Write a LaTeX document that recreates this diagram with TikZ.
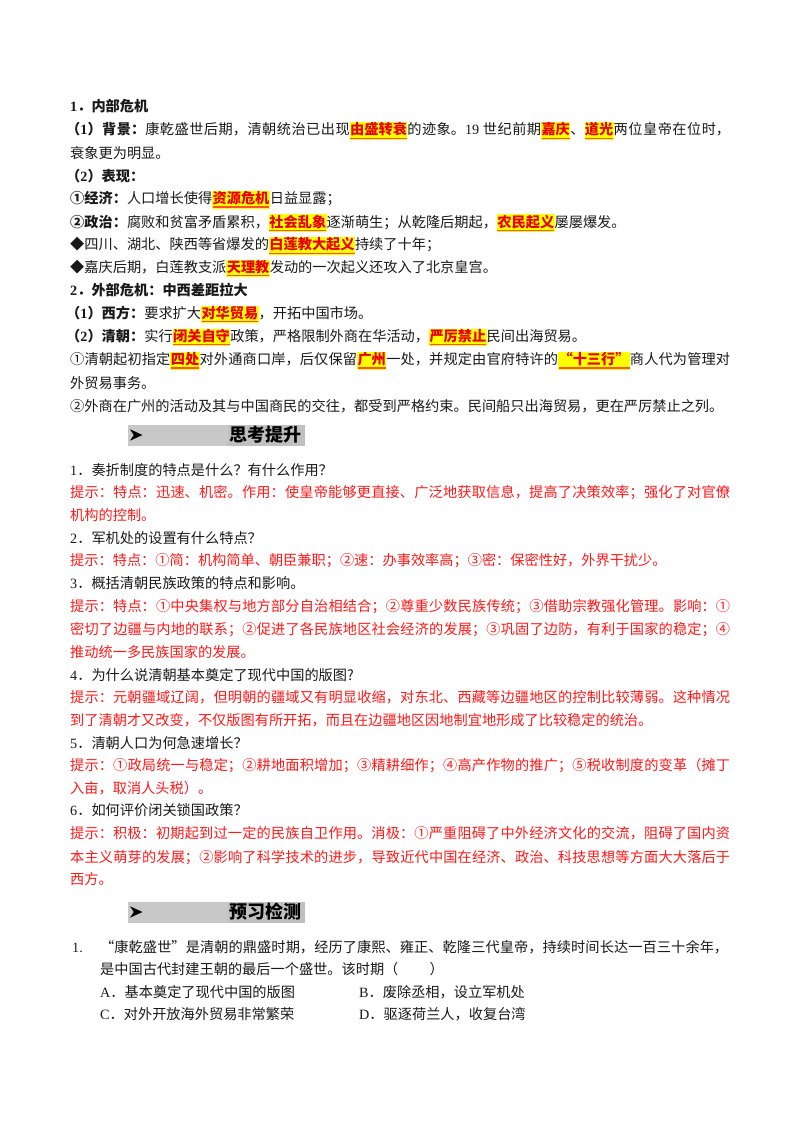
\documentclass[tikz,border=0pt]{standalone}
\usepackage{fontspec}
\setmainfont{Noto Sans CJK SC}
\newfontfamily\tm{Liberation Serif}
\XeTeXlinebreaklocale "zh"
\XeTeXlinebreakskip=0pt plus 2pt
\definecolor{hintred}{RGB}{255,25,25}
\definecolor{hlyellow}{RGB}{255,255,0}
\definecolor{hlred}{RGB}{235,0,0}
\definecolor{ulred}{RGB}{255,80,40}
\definecolor{hdrA}{RGB}{200,200,200}
\definecolor{hdrB}{RGB}{192,192,192}
\definecolor{bodyblack}{RGB}{25,25,25}
\newcommand\fs{\fontsize{14.2pt}{17pt}\selectfont}
\newlength\hlw
\newcommand\hlt[1]{{\settowidth{\hlw}{\bfseries #1}%
  \setlength{\fboxsep}{0.4pt}%
  \colorbox{hlyellow}{\rule[-4.6pt]{0pt}{16.6pt}\rlap{\textcolor{ulred}{\rule[-4pt]{\hlw}{1.3pt}}}\textcolor{hlred}{\bfseries #1}}}}
\newcommand\jus[2][660pt]{\parbox[t]{#1}{\parfillskip=0pt\relax #2}}
\tikzset{
  txt/.style={anchor=base west, inner sep=0pt, font=\fs, text=bodyblack},
  hint/.style={txt, text=hintred},
  hdrtext/.style={anchor=west, inner sep=0pt, font=\bfseries\fontsize{18pt}{20pt}\selectfont, text=black}
}
\begin{document}
\begin{tikzpicture}[x=1pt,y=-1pt]
\useasboundingbox (0,0) rectangle (800,1132);
\fill[white] (0,0) rectangle (800,1132);

% ---- Part 1
\node[txt] (l1) at (70,111.8) {\bfseries {\tm 1}．内部危机};
\node[txt] (l2) at (66,134.8) {\jus[664pt]{\bfseries（{\tm 1}）背景：\mdseries 康乾盛世后期，清朝统治已出现\hlt{由盛转衰}的迹象。{\tm 19} 世纪前期\hlt{嘉庆}、\hlt{道光}两位皇帝在位时，}};
\node[txt] (l3) at (70,158.0) {衰象更为明显。};
\node[txt] (l4) at (66,181.3) {\bfseries（{\tm 2}）表现：};
\node[txt] (l5) at (70,203.6) {\textbf{①经济：}人口增长使得\hlt{资源危机}日益显露；};
\node[txt] (l6) at (70,227.0) {\textbf{②政治：}腐败和贫富矛盾累积，\hlt{社会乱象}逐渐萌生；从乾隆后期起，\hlt{农民起义}屡屡爆发。};
\node[txt] (l7) at (70,249.8) {◆四川、湖北、陕西等省爆发的\hlt{白莲教大起义}持续了十年；};
\node[txt] (l8) at (70,272.3) {◆嘉庆后期，白莲教支派\hlt{天理教}发动的一次起义还攻入了北京皇宫。};
\node[txt] (l9) at (70,295.3) {\bfseries {\tm 2}．外部危机：中西差距拉大};
\node[txt] (l10) at (66,318.3) {\textbf{（{\tm 1}）西方：}要求扩大\hlt{对华贸易}，开拓中国市场。};
\node[txt] (l11) at (66,341.3) {\textbf{（{\tm 2}）清朝：}实行\hlt{闭关自守}政策，严格限制外商在华活动，\hlt{严厉禁止}民间出海贸易。};
\node[txt] (l12) at (70,364.6) {\jus{①清朝起初指定\hlt{四处}对外通商口岸，后仅保留\hlt{广州}一处，并规定由官府特许的\hlt{“十三行”}商人代为管理对}};
\node[txt] (l13) at (70,388.0) {外贸易事务。};
\node[txt] (l14) at (70,411.3) {②外商在广州的活动及其与中国商民的交往，都受到严格约束。民间船只出海贸易，更在严厉禁止之列。};

% ---- Header 1
\fill[hdrA] (128,424.5) rectangle (228,445.5);
\fill[hdrB] (228,424.5) rectangle (305,445.5);
\fill[black] (130,429.3) -- (142.5,435) -- (130,440.7) -- (133.8,435) -- cycle;
\node[hdrtext] (h1) at (229,435) {思考提升};

% ---- Questions
\node[txt] (q1) at (70,475.3) {{\tm 1}．奏折制度的特点是什么？有什么作用？};
\node[hint] (a1a) at (70,497.0) {\jus{提示：特点：迅速、机密。作用：使皇帝能够更直接、广泛地获取信息，提高了决策效率；强化了对官僚}};
\node[hint] (a1b) at (70,520.3) {机构的控制。};
\node[txt] (q2) at (70,543.6) {{\tm 2}．军机处的设置有什么特点？};
\node[hint] (a2) at (70,565.8) {提示：特点：①简：机构简单、朝臣兼职；②速：办事效率高；③密：保密性好，外界干扰少。};
\node[txt] (q3) at (70,588.6) {{\tm 3}．概括清朝民族政策的特点和影响。};
\node[hint] (a3a) at (70,611.3) {\jus{提示：特点：①中央集权与地方部分自治相结合；②尊重少数民族传统；③借助宗教强化管理。影响：①}};
\node[hint] (a3b) at (70,634.1) {\jus{密切了边疆与内地的联系；②促进了各民族地区社会经济的发展；③巩固了边防，有利于国家的稳定；④}};
\node[hint] (a3c) at (70,657.0) {推动统一多民族国家的发展。};
\node[txt] (q4) at (70,680.3) {{\tm 4}．为什么说清朝基本奠定了现代中国的版图?};
\node[hint] (a4a) at (70,702.8) {\jus{提示：元朝疆域辽阔，但明朝的疆域又有明显收缩，对东北、西藏等边疆地区的控制比较薄弱。这种情况}};
\node[hint] (a4b) at (70,725.6) {到了清朝才又改变，不仅版图有所开拓，而且在边疆地区因地制宜地形成了比较稳定的统治。};
\node[txt] (q5) at (70,748.3) {{\tm 5}．清朝人口为何急速增长？};
\node[hint] (a5a) at (70,770.8) {\jus{提示：①政局统一与稳定；②耕地面积增加；③精耕细作；④高产作物的推广；⑤税收制度的变革（摊丁}};
\node[hint] (a5b) at (70,793.6) {入亩，取消人头税）。};
\node[txt] (q6) at (70,815.8) {{\tm 6}．如何评价闭关锁国政策？};
\node[hint] (a6a) at (70,838.6) {\jus{提示：积极：初期起到过一定的民族自卫作用。消极：①严重阻碍了中外经济文化的交流，阻碍了国内资}};
\node[hint] (a6b) at (70,862.0) {\jus{本主义萌芽的发展；②影响了科学技术的进步，导致近代中国在经济、政治、科技思想等方面大大落后于}};
\node[hint] (a6c) at (70,884.6) {西方。};

% ---- Header 2
\fill[hdrA] (128,901.5) rectangle (228,922.5);
\fill[hdrB] (228,901.5) rectangle (305,922.5);
\fill[black] (130,906.3) -- (142.5,912) -- (130,917.7) -- (133.8,912) -- cycle;
\node[hdrtext] (h2) at (229,912) {预习检测};

% ---- Exercise
\node[txt] (p1n) at (72,952.0) {{\tm 1.}};
\node[txt] (p1a) at (100,952.0) {\jus[628pt]{“康乾盛世”是清朝的鼎盛时期，经历了康熙、雍正、乾隆三代皇帝，持续时间长达一百三十余年，}};
\node[txt] (p1b) at (100,974.6) {是中国古代封建王朝的最后一个盛世。该时期（\hspace{2.2em}）};
\node[txt] (oa) at (100,997.0) {{\tm A}．基本奠定了现代中国的版图};
\node[txt] (ob) at (359,997.0) {{\tm B}．废除丞相，设立军机处};
\node[txt] (oc) at (100,1019.3) {{\tm C}．对外开放海外贸易非常繁荣};
\node[txt] (od) at (359,1019.3) {{\tm D}．驱逐荷兰人，收复台湾};
\end{tikzpicture}
\end{document}
